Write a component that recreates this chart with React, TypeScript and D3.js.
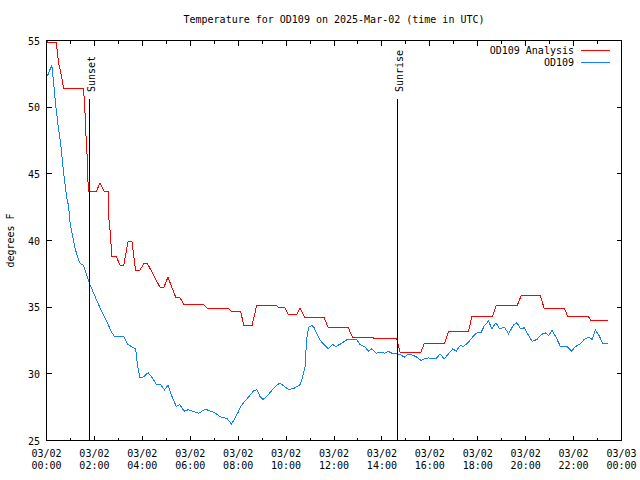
import React from 'react';
import * as d3 from 'd3';

// OD109 Analysis (hourly analysis, stepwise)
const analysisTime = [0, 0.05, 0.41, 0.5, 0.58, 0.65, 0.71, 1.53, 1.59, 1.63, 1.69, 1.73, 1.74, 2.08, 2.23, 2.40, 2.58, 2.59, 2.66, 2.73, 2.91, 3.08, 3.22, 3.40, 3.57, 3.72, 3.89, 4.06, 4.22, 4.75, 4.89, 5.07, 5.39, 5.56, 5.73, 6.56, 6.74, 7.62, 7.72, 8.10, 8.24, 8.58, 8.77, 9.60, 9.71, 9.95, 10.09, 10.44, 10.58, 10.79, 11.59, 11.76, 12.60, 12.78, 13.64, 13.71, 14.62, 14.76, 15.62, 15.76, 16.61, 16.78, 17.61, 17.76, 18.62, 18.77, 19.64, 19.81, 20.61, 20.78, 21.63, 21.75, 22.63, 22.73, 23.44];
const analysisTemp = [55.0, 54.85, 54.85, 53.35, 52.75, 52.1, 51.42, 51.42, 50.45, 48.5, 46.5, 44.65, 43.7, 43.7, 44.3, 43.7, 43.7, 41.88, 40.62, 38.8, 38.8, 38.1, 38.1, 39.9, 39.9, 37.75, 37.75, 38.25, 38.25, 36.45, 36.45, 37.25, 35.75, 35.75, 35.2, 35.2, 34.88, 34.88, 34.68, 34.68, 33.63, 33.63, 35.1, 35.1, 34.95, 34.95, 34.43, 34.43, 34.95, 34.2, 34.2, 33.45, 33.45, 32.7, 32.7, 32.63, 32.63, 31.58, 31.58, 32.25, 32.25, 33.15, 33.15, 34.33, 34.33, 35.1, 35.1, 35.85, 35.85, 34.88, 34.88, 34.27, 34.27, 33.98, 33.98];

// OD109 observations
const obsTime = [0.04, 0.22, 0.29, 0.39, 0.50, 0.60, 0.71, 0.85, 0.92, 0.99, 1.10, 1.20, 1.34, 1.43, 1.55, 1.66, 1.77, 1.89, 2.04, 2.25, 2.43, 2.56, 2.71, 2.84, 3.22, 3.40, 3.58, 3.72, 3.79, 3.89, 4.03, 4.24, 4.42, 4.59, 4.77, 4.93, 5.07, 5.26, 5.42, 5.56, 5.74, 5.91, 6.12, 6.36, 6.61, 6.74, 7.02, 7.23, 7.54, 7.72, 7.86, 8.00, 8.10, 8.28, 8.49, 8.65, 8.79, 8.91, 9.04, 9.19, 9.40, 9.63, 9.74, 9.88, 10.09, 10.30, 10.58, 10.65, 10.72, 10.79, 10.83, 10.88, 10.95, 11.07, 11.16, 11.28, 11.41, 11.55, 11.76, 11.95, 12.08, 12.28, 12.53, 12.95, 13.09, 13.30, 13.43, 13.58, 13.76, 13.89, 14.13, 14.27, 14.41, 14.62, 14.79, 14.93, 15.06, 15.25, 15.46, 15.63, 15.76, 15.94, 16.08, 16.26, 16.43, 16.60, 16.78, 16.96, 17.10, 17.27, 17.41, 17.62, 17.80, 17.97, 18.13, 18.28, 18.45, 18.59, 18.76, 18.91, 19.11, 19.29, 19.50, 19.64, 19.78, 19.94, 20.08, 20.27, 20.47, 20.64, 20.82, 20.96, 21.10, 21.28, 21.45, 21.73, 21.91, 22.08, 22.29, 22.43, 22.63, 22.77, 22.91, 23.06, 23.23, 23.43];
const obsTemp = [52.35, 53.15, 52.0, 50.03, 48.4, 47.15, 45.15, 43.15, 42.6, 41.25, 40.25, 39.38, 38.5, 38.25, 38.13, 37.5, 36.88, 36.38, 35.75, 34.88, 34.25, 33.75, 33.13, 32.8, 32.8, 32.2, 32.0, 31.88, 30.75, 29.75, 29.75, 30.08, 29.7, 29.18, 29.18, 28.8, 29.13, 28.2, 27.55, 27.7, 27.2, 27.3, 27.18, 27.05, 27.33, 27.28, 27.08, 26.8, 26.63, 26.25, 26.63, 27.13, 27.55, 27.95, 28.38, 28.75, 28.8, 28.3, 28.08, 28.3, 28.75, 29.18, 29.3, 29.13, 28.83, 28.88, 29.18, 29.5, 30.0, 30.5, 31.75, 32.88, 33.5, 33.63, 33.5, 33.0, 32.55, 32.25, 31.88, 32.2, 32.05, 32.25, 32.55, 32.55, 32.2, 32.0, 31.7, 31.88, 31.55, 31.63, 31.55, 31.68, 31.55, 31.5, 31.43, 31.25, 31.43, 31.43, 31.25, 31.0, 31.13, 31.2, 31.13, 31.13, 31.5, 31.13, 31.5, 31.88, 31.7, 32.13, 32.05, 32.38, 32.8, 33.08, 33.08, 33.63, 33.95, 33.38, 33.83, 33.38, 33.5, 33.0, 33.7, 33.83, 33.38, 33.45, 33.0, 32.43, 32.58, 32.93, 33.08, 32.88, 33.25, 32.7, 32.05, 32.05, 31.7, 32.05, 32.25, 32.55, 32.75, 32.58, 33.3, 32.88, 32.25, 32.25];

const yTicks = [25, 30, 35, 40, 45, 50, 55];
const xMajorHours = [0, 2, 4, 6, 8, 10, 12, 14, 16, 18, 20, 22, 24];
const xTickDate = ['03/02', '03/02', '03/02', '03/02', '03/02', '03/02', '03/02', '03/02', '03/02', '03/02', '03/02', '03/02', '03/03'];
const xTickTime = ['00:00', '02:00', '04:00', '06:00', '08:00', '10:00', '12:00', '14:00', '16:00', '18:00', '20:00', '22:00', '00:00'];
const xMinorHours = [1, 3, 5, 7, 9, 11, 13, 15, 17, 19, 21, 23];
const sunLabels = ['Sunset', 'Sunrise'];
const sunHours = [1.78, 14.65];
const sunTop = 50.6;

const seriesNames = ['OD109 Analysis', 'OD109'];
const seriesColors = ['#ff0000', '#1080ff'];

const FONT = "'DejaVu Sans Mono', monospace";

export default function App() {
  const L = 46.5, R = 621.5, T = 40.5, B = 440.5;
  const x = d3.scaleLinear().domain([0, 24]).range([L, R]);
  const y = d3.scaleLinear().domain([25, 55]).range([B, T]);
  const snap = (v: number) => Math.floor(v) + 0.5;

  const lineGen = (ts: number[], vs: number[]) =>
    d3.line<number>().x((_, i) => x(ts[i])).y((_, i) => y(vs[i]))(vs.map((v) => v)) || '';

  const redPath = lineGen(analysisTime, analysisTemp);
  const bluePath = lineGen(obsTime, obsTemp);

  return (
    <svg width={640} height={480} style={{ position: 'absolute', left: 0, top: 0, background: '#fff' }}
      fontFamily={FONT} fontSize={10}>
      <rect x={0} y={0} width={640} height={480} fill="#fff" />
      <text x={(L + R) / 2} y={23} textAnchor="middle">Temperature for OD109 on 2025-Mar-02 (time in UTC)</text>

      {/* series */}
      <path d={redPath} fill="none" stroke={seriesColors[0]} strokeWidth={1} shapeRendering="crispEdges" />
      <path d={bluePath} fill="none" stroke={seriesColors[1]} strokeWidth={1} shapeRendering="crispEdges" />

      {/* sun events */}
      {sunHours.map((h, i) => {
        const sx = snap(x(h));
        return (
          <g key={sunLabels[i]}>
            <line x1={sx} x2={sx} y1={y(sunTop)} y2={B} stroke="#000" shapeRendering="crispEdges" />
            <text transform={`translate(${sx + 5},92) rotate(-90)`} textAnchor="start">{sunLabels[i]}</text>
          </g>
        );
      })}

      {/* axes border */}
      <rect x={L} y={T} width={R - L} height={B - T} fill="none" stroke="#000" shapeRendering="crispEdges" />

      {/* y ticks */}
      {yTicks.map((t) => (
        <g key={'y' + t}>
          <line x1={L} x2={L + 5} y1={snap(y(t))} y2={snap(y(t))} stroke="#000" shapeRendering="crispEdges" />
          <line x1={R - 5} x2={R} y1={snap(y(t))} y2={snap(y(t))} stroke="#000" shapeRendering="crispEdges" />
          <text x={40} y={y(t) + 4} textAnchor="end">{t}</text>
        </g>
      ))}

      {/* x ticks */}
      {xMajorHours.map((h, i) => {
        const tx = snap(x(h));
        return (
          <g key={'x' + h}>
            <line x1={tx} x2={tx} y1={B} y2={B - 5} stroke="#000" shapeRendering="crispEdges" />
            <line x1={tx} x2={tx} y1={T} y2={T + 5} stroke="#000" shapeRendering="crispEdges" />
            <text x={x(h)} y={457} textAnchor="middle">{xTickDate[i]}</text>
            <text x={x(h)} y={469} textAnchor="middle">{xTickTime[i]}</text>
          </g>
        );
      })}
      {xMinorHours.map((h) => {
        const tx = snap(x(h));
        return (
          <g key={'m' + h}>
            <line x1={tx} x2={tx} y1={B} y2={B - 3} stroke="#000" shapeRendering="crispEdges" />
            <line x1={tx} x2={tx} y1={T} y2={T + 3} stroke="#000" shapeRendering="crispEdges" />
          </g>
        );
      })}

      {/* y label */}
      <text transform={`translate(14,${(T + B) / 2}) rotate(-90)`} textAnchor="middle">degrees F</text>

      {/* legend */}
      {seriesNames.map((n, i) => (
        <g key={n}>
          <text x={574} y={53.5 + i * 12} textAnchor="end">{n}</text>
          <line x1={581} x2={610} y1={50.5 + i * 12} y2={50.5 + i * 12} stroke={seriesColors[i]} shapeRendering="crispEdges" />
        </g>
      ))}
    </svg>
  );
}
